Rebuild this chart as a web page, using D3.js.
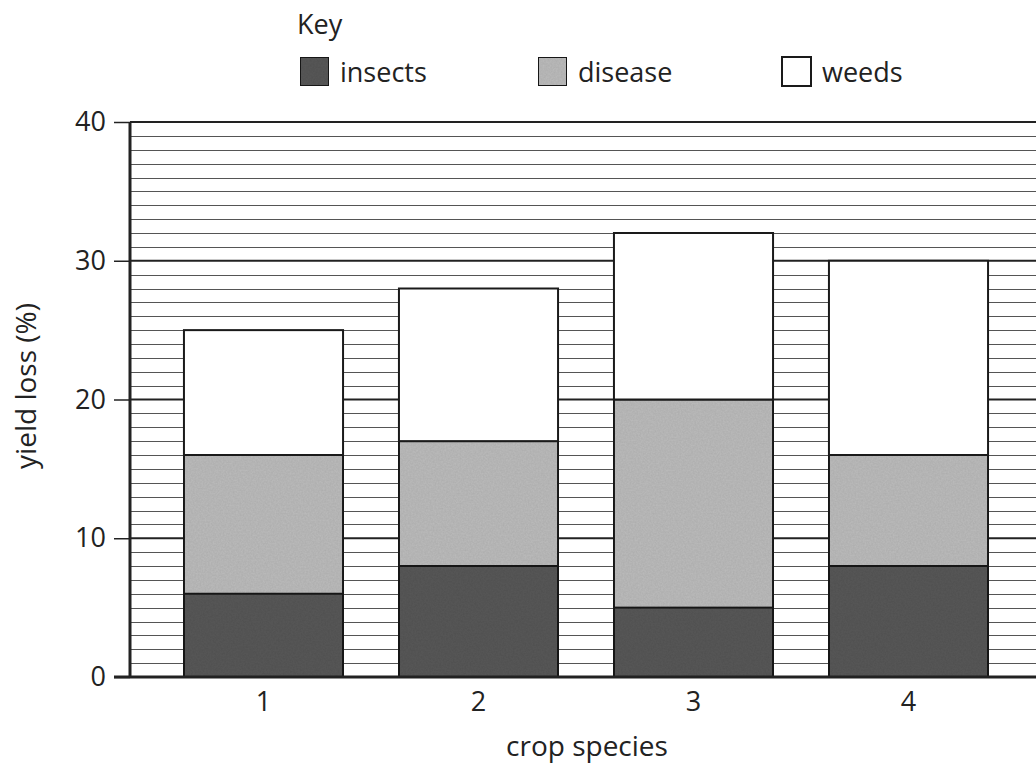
<!DOCTYPE html>
<html>
<head>
<meta charset="utf-8">
<script src="https://cdn.jsdelivr.net/npm/d3@7"></script>
<style>
  html, body { margin: 0; padding: 0; background: #fff; }
  svg { display: block; }
  text { font-family: "Open Sans", "Noto Sans", sans-serif; fill: #222; }
</style>
</head>
<body>
<svg id="chart" width="1036" height="771"></svg>
<script>
const categories = ["1", "2", "3", "4"];
const seriesNames = ["insects", "disease", "weeds"];
const insects = [6, 8, 5, 8];
const disease = [10, 9, 15, 8];
const weeds = [9, 11, 12, 14];
const yTicks = [0, 10, 20, 30, 40];
const xTitle = "crop species";
const yTitle = "yield loss (%)";
const keyTitle = "Key";

const colors = { insects: "#595959", disease: "#bcbcbc", weeds: "#ffffff" };

const svg = d3.select("#chart");
const W = 1036, H = 771;
const plotLeft = 130, plotTop = 122, plotBottom = 677;

const y = d3.scaleLinear().domain([0, 40]).range([plotBottom, plotTop]);
const x = d3.scaleBand().domain(categories).range([156, 1016]).paddingInner(0.26).paddingOuter(0.13);

// textures
const defs = svg.append("defs");
const filt = defs.append("filter").attr("id", "grain").attr("x", 0).attr("y", 0).attr("width", 1).attr("height", 1);
filt.append("feTurbulence").attr("type", "fractalNoise").attr("baseFrequency", 0.6).attr("numOctaves", 2).attr("seed", 3).attr("result", "noise");
filt.append("feColorMatrix").attr("in", "noise").attr("type", "matrix")
  .attr("values", "0 0 0 0 0  0 0 0 0 0  0 0 0 0 0  0 0 0 0.18 0").attr("result", "dots");
filt.append("feComposite").attr("in", "dots").attr("in2", "SourceGraphic").attr("operator", "in").attr("result", "dotsIn");
filt.append("feMerge").selectAll("feMergeNode").data(["SourceGraphic", "dotsIn"]).join("feMergeNode").attr("in", d => d);

// minor grid
const minor = d3.range(1, 40).filter(v => v % 10 !== 0);
svg.append("g").selectAll("line").data(minor).join("line")
  .attr("x1", plotLeft).attr("x2", W)
  .attr("y1", d => Math.round(y(d)) + 0.5).attr("y2", d => Math.round(y(d)) + 0.5)
  .attr("stroke", "#555").attr("stroke-width", 1);
// major grid
svg.append("g").selectAll("line").data(yTicks.filter(v => v > 0)).join("line")
  .attr("x1", plotLeft).attr("x2", W)
  .attr("y1", d => y(d)).attr("y2", d => y(d))
  .attr("stroke", "#222").attr("stroke-width", 2);

// stacked bars
const table = categories.map((c, i) => ({ cat: c, insects: insects[i], disease: disease[i], weeds: weeds[i] }));
const stack = d3.stack().keys(seriesNames)(table);
const gBars = svg.append("g");
stack.forEach(layer => {
  gBars.append("g").selectAll("rect").data(layer).join("rect")
    .attr("x", d => x(d.data.cat))
    .attr("width", x.bandwidth())
    .attr("y", d => y(d[1]))
    .attr("height", d => y(d[0]) - y(d[1]))
    .attr("fill", colors[layer.key])
    .attr("filter", layer.key === "weeds" ? null : "url(#grain)")
    .attr("stroke", "#1a1a1a").attr("stroke-width", 2);
});

// y axis
const yAxis = d3.axisLeft(y).tickValues(yTicks).tickSize(16).tickPadding(8);
const gy = svg.append("g").attr("transform", `translate(${plotLeft},0)`).call(yAxis);
gy.select(".domain").remove();
gy.selectAll(".tick line").attr("stroke", "#222").attr("stroke-width", 1.5);
gy.selectAll(".tick text").attr("font-size", 27).attr("font-family", "'Open Sans', sans-serif").attr("fill", "#222");
svg.append("line").attr("x1", plotLeft).attr("x2", plotLeft).attr("y1", plotTop).attr("y2", plotBottom)
  .attr("stroke", "#222").attr("stroke-width", 3);

// x axis
const xAxis = d3.axisBottom(x).tickSize(0).tickPadding(15);
const gx = svg.append("g").attr("transform", `translate(0,${plotBottom})`).call(xAxis);
gx.select(".domain").remove();
gx.selectAll(".tick text").attr("font-size", 27).attr("font-family", "'Open Sans', sans-serif").attr("fill", "#222");
svg.append("line").attr("x1", 114).attr("x2", W).attr("y1", plotBottom).attr("y2", plotBottom)
  .attr("stroke", "#222").attr("stroke-width", 3);

// titles
svg.append("text").attr("x", 587).attr("y", 756).attr("text-anchor", "middle")
  .attr("font-size", 28).text(xTitle);
svg.append("text").attr("transform", "translate(36,386) rotate(-90)").attr("text-anchor", "middle")
  .attr("font-size", 28).text(yTitle);

// legend
svg.append("text").attr("x", 297).attr("y", 34).attr("font-size", 27).text(keyTitle);
const legendX = [300, 538, 782];
const lg = svg.append("g").selectAll("g").data(seriesNames).join("g")
  .attr("transform", (d, i) => `translate(${legendX[i]},57)`);
lg.append("rect").attr("width", 29).attr("height", 29)
  .attr("fill", d => colors[d]).attr("filter", d => d === "weeds" ? null : "url(#grain)")
  .attr("stroke", "#1a1a1a").attr("stroke-width", 2);
lg.append("text").attr("x", 40).attr("y", 25).attr("font-size", 27).text(d => d);
</script>
</body>
</html>
